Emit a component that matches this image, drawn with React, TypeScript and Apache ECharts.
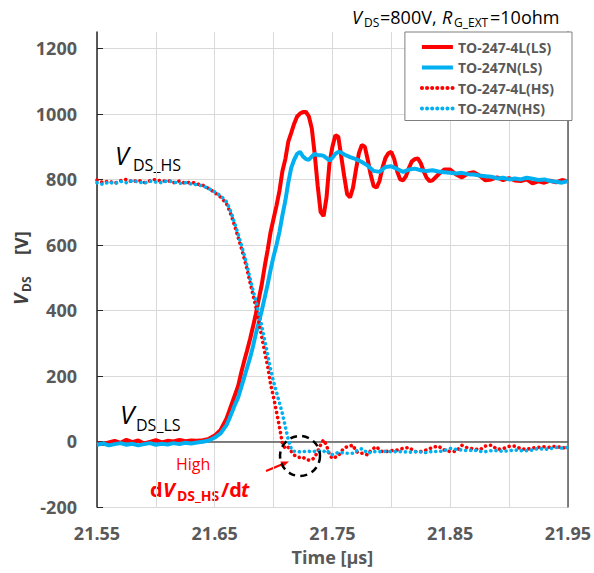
import React, { useEffect, useRef } from "react";
import * as echarts from "echarts";

// ---- axis settings ----
const X_MIN = 21.55;
const X_MAX = 21.95;
const X_STEP = 0.05;
const Y_MIN = -200;
const Y_MAX = 1250;
const Y_STEP = 200;

const seriesNames = ["TO-247-4L(LS)", "TO-247N(LS)", "TO-247-4L(HS)", "TO-247N(HS)"];

// ---- data: [time µs, V] ----
const ls4L: [number, number][] = [
  [21.55, -5], [21.555, -8], [21.56, -3], [21.565, 2], [21.57, -4], [21.575, 5], [21.58, -2], [21.585, 3],
  [21.59, -6], [21.595, -1], [21.6, 4], [21.605, -3], [21.61, 2], [21.615, 0], [21.62, 5], [21.625, 1],
  [21.63, 3], [21.635, 2], [21.64, 4], [21.645, 8], [21.65, 18], [21.655, 35], [21.66, 70], [21.6625, 95],
  [21.665, 120], [21.6675, 145], [21.67, 170], [21.6725, 210], [21.675, 245], [21.6775, 278], [21.68, 312],
  [21.6825, 350], [21.685, 390], [21.6875, 435], [21.69, 480], [21.6925, 535], [21.695, 585], [21.6975, 640],
  [21.7, 680], [21.7025, 720], [21.705, 765], [21.7075, 825], [21.71, 862], [21.7125, 915], [21.715, 942],
  [21.7175, 970], [21.72, 992], [21.7225, 1001], [21.725, 1006], [21.7275, 1006], [21.73, 992], [21.7325, 955],
  [21.735, 875], [21.7375, 780], [21.74, 700], [21.7425, 688], [21.745, 745], [21.7475, 850], [21.75, 900],
  [21.7525, 935], [21.755, 930], [21.7575, 870], [21.76, 810], [21.7625, 755], [21.765, 745], [21.7675, 775],
  [21.77, 830], [21.7725, 880], [21.775, 905], [21.7775, 900], [21.78, 860], [21.7825, 815], [21.785, 780],
  [21.7875, 775], [21.79, 795], [21.7925, 835], [21.795, 865], [21.7975, 880], [21.8, 884], [21.8025, 862],
  [21.805, 825], [21.8075, 800], [21.81, 797], [21.8125, 810], [21.815, 835], [21.8175, 855], [21.82, 862],
  [21.8225, 864], [21.825, 850], [21.8275, 825], [21.83, 805], [21.8325, 795], [21.835, 797], [21.84, 815],
  [21.845, 830], [21.85, 830], [21.855, 815], [21.86, 806], [21.865, 818], [21.87, 822], [21.875, 812],
  [21.88, 797], [21.885, 800], [21.89, 806], [21.895, 798], [21.9, 804], [21.905, 797], [21.91, 795],
  [21.915, 800], [21.92, 788], [21.925, 794], [21.93, 790], [21.935, 796], [21.94, 791], [21.945, 798], [21.95, 794],
];

const lsN: [number, number][] = [
  [21.55, -10], [21.555, -6], [21.56, -12], [21.565, -8], [21.57, -5], [21.575, -10], [21.58, -7], [21.585, -12],
  [21.59, -8], [21.595, -5], [21.6, -10], [21.605, -7], [21.61, -9], [21.615, -5], [21.62, -8], [21.625, -4],
  [21.63, -6], [21.635, -3], [21.64, -1], [21.645, 3], [21.65, 12], [21.655, 25], [21.66, 50], [21.6625, 70],
  [21.665, 92], [21.6675, 115], [21.67, 135], [21.6725, 165], [21.675, 195], [21.6775, 225], [21.68, 255],
  [21.6825, 290], [21.685, 330], [21.6875, 365], [21.69, 400], [21.6925, 440], [21.695, 480], [21.6975, 525],
  [21.7, 565], [21.7025, 600], [21.705, 640], [21.7075, 690], [21.71, 735], [21.7125, 790], [21.715, 835],
  [21.7175, 860], [21.72, 878], [21.7225, 884], [21.725, 870], [21.7275, 862], [21.73, 860], [21.7325, 870],
  [21.735, 878], [21.7375, 874], [21.74, 874], [21.7425, 872], [21.745, 865], [21.7475, 858], [21.75, 866],
  [21.7525, 878], [21.755, 884], [21.7575, 882], [21.76, 876], [21.765, 868], [21.77, 862], [21.775, 853],
  [21.78, 842], [21.785, 826], [21.79, 823], [21.795, 838], [21.8, 840], [21.805, 832], [21.81, 823],
  [21.815, 830], [21.82, 833], [21.825, 828], [21.83, 826], [21.835, 828], [21.84, 824], [21.845, 822],
  [21.85, 820], [21.855, 818], [21.86, 820], [21.865, 816], [21.87, 815], [21.875, 812], [21.88, 810],
  [21.885, 808], [21.89, 803], [21.895, 805], [21.9, 800], [21.905, 803], [21.91, 800], [21.915, 805],
  [21.92, 802], [21.925, 798], [21.93, 800], [21.935, 795], [21.94, 793], [21.945, 790], [21.95, 795],
];

const hs4L: [number, number][] = [
  [21.55, 798], [21.555, 790], [21.56, 795], [21.565, 788], [21.57, 796], [21.575, 800], [21.58, 792],
  [21.585, 798], [21.59, 790], [21.595, 796], [21.6, 800], [21.605, 794], [21.61, 797], [21.615, 790],
  [21.62, 795], [21.625, 788], [21.63, 792], [21.635, 786], [21.64, 782], [21.645, 772], [21.65, 760],
  [21.655, 746], [21.66, 726], [21.6625, 705], [21.665, 680], [21.6675, 652], [21.67, 622], [21.6725, 592],
  [21.675, 560], [21.6775, 525], [21.68, 485], [21.6825, 448], [21.685, 410], [21.6875, 365], [21.69, 318],
  [21.6925, 272], [21.695, 230], [21.6975, 175], [21.7, 135], [21.7025, 90], [21.705, 45], [21.7075, -5],
  [21.71, -22], [21.7125, -18], [21.715, -30], [21.7175, -42], [21.72, -45], [21.7225, -50], [21.725, -48],
  [21.7275, -55], [21.73, -57], [21.7325, -56], [21.735, -48], [21.7375, -30], [21.74, -10], [21.7425, 5],
  [21.745, -12], [21.7475, -40], [21.75, -52], [21.7525, -48], [21.755, -44], [21.7575, -30], [21.76, -20],
  [21.7625, -16], [21.765, -14], [21.7675, -11], [21.77, -30], [21.7725, -36], [21.775, -36], [21.7775, -38],
  [21.78, -41], [21.7825, -28], [21.785, -21], [21.7875, -16], [21.79, -25], [21.7925, -31], [21.795, -31],
  [21.8, -28], [21.805, -26], [21.81, -21], [21.815, -18], [21.82, -31], [21.825, -31], [21.83, -26],
  [21.835, -18], [21.84, -14], [21.845, -26], [21.85, -31], [21.855, -30], [21.86, -12], [21.865, -20],
  [21.87, -22], [21.875, -26], [21.88, -14], [21.885, -11], [21.89, -24], [21.895, -22], [21.9, -15],
  [21.905, -14], [21.91, -22], [21.915, -24], [21.92, -20], [21.925, -18], [21.93, -16], [21.935, -18],
  [21.94, -14], [21.945, -20], [21.95, -18],
];

const hsN: [number, number][] = [
  [21.55, 790], [21.555, 785], [21.56, 792], [21.565, 787], [21.57, 794], [21.575, 790], [21.58, 796],
  [21.585, 793], [21.59, 788], [21.595, 795], [21.6, 792], [21.605, 790], [21.61, 796], [21.615, 792],
  [21.62, 788], [21.625, 790], [21.63, 786], [21.635, 784], [21.64, 780], [21.645, 772], [21.65, 762],
  [21.655, 750], [21.66, 732], [21.6625, 712], [21.665, 688], [21.6675, 660], [21.67, 632], [21.6725, 602],
  [21.675, 570], [21.6775, 536], [21.68, 498], [21.6825, 462], [21.685, 428], [21.6875, 392], [21.69, 352],
  [21.6925, 308], [21.695, 265], [21.6975, 220], [21.7, 182], [21.7025, 150], [21.705, 118], [21.7075, 85],
  [21.71, 45], [21.7125, 5], [21.715, -22], [21.7175, -30], [21.72, -30], [21.7225, -32], [21.725, -30],
  [21.7275, -31], [21.73, -30], [21.7325, -32], [21.735, -30], [21.7375, -31], [21.74, -28], [21.7425, -31],
  [21.745, -26], [21.7475, -36], [21.75, -40], [21.7525, -36], [21.755, -34], [21.7575, -34], [21.76, -35],
  [21.7625, -36], [21.765, -36], [21.7675, -36], [21.77, -30], [21.7725, -26], [21.775, -22], [21.7775, -28],
  [21.78, -36], [21.7825, -33], [21.785, -31], [21.79, -31], [21.795, -30], [21.8, -31], [21.805, -31],
  [21.81, -31], [21.815, -33], [21.82, -31], [21.825, -32], [21.83, -34], [21.835, -30], [21.84, -31],
  [21.845, -28], [21.85, -21], [21.855, -24], [21.86, -26], [21.865, -28], [21.87, -26], [21.875, -30],
  [21.88, -31], [21.885, -28], [21.89, -28], [21.895, -30], [21.9, -28], [21.905, -26], [21.91, -28],
  [21.915, -28], [21.92, -26], [21.925, -21], [21.93, -24], [21.935, -22], [21.94, -18], [21.945, -20], [21.95, -18],
];

const RED = "#FF0000";
const BLUE = "#00B0F0";
const GRAY = "#595959";
const FF = '"Open Sans", "Noto Sans", sans-serif';

function txt(x: number, y: number, text: string, font: string, fill: string, align = "left") {
  return {
    type: "text",
    x,
    y,
    silent: true,
    style: { text, font, fill, align, verticalAlign: "middle", textAlign: align, textVerticalAlign: "middle" },
  };
}

export default function App() {
  const ref = useRef<HTMLDivElement>(null);

  useEffect(() => {
    if (!ref.current) return;
    const chart = echarts.init(ref.current, null, { renderer: "svg" });

    const dotted = { width: 3.6, type: [0.1, 5], cap: "round" };

    const option: any = {
      animation: false,
      backgroundColor: "#ffffff",
      grid: { left: 97, right: 21, top: 32, bottom: 66, containLabel: false },
      legend: {
        data: seriesNames,
        orient: "vertical",
        top: 32,
        right: 22,
        align: "left",
        selectedMode: false,
        backgroundColor: "#ffffff",
        borderColor: "#7f7f7f",
        borderWidth: 1,
        borderRadius: 0,
        padding: [8, 18, 5, 15],
        itemWidth: 31,
        itemHeight: 14,
        itemGap: 6.5,
        itemStyle: { opacity: 0, color: "rgba(0,0,0,0)", borderWidth: 0 },
        lineStyle: { width: 4 },
        textStyle: { color: GRAY, fontWeight: "bold", fontSize: 14, fontFamily: FF },
      },
      xAxis: {
        type: "value",
        min: X_MIN,
        max: X_MAX,
        interval: X_STEP,
        axisLine: { show: true, lineStyle: { color: GRAY, width: 1.5 } },
        axisTick: { show: false },
        splitLine: { show: true, lineStyle: { color: "#D9D9D9", width: 1 } },
        axisLabel: {
          color: GRAY,
          fontWeight: "bold",
          fontSize: 18,
          fontFamily: FF,
          margin: 17,
          formatter: (v: number) => (Math.round(v * 100) % 10 === 5 ? v.toFixed(2) : ""),
        },
        name: "Time [µs]",
        nameLocation: "middle",
        nameGap: 41,
        nameTextStyle: { color: GRAY, fontWeight: "bold", fontSize: 18, fontFamily: FF },
      },
      yAxis: [
        {
          type: "value",
          min: Y_MIN,
          max: Y_MAX,
          interval: Y_STEP,
          axisLine: { show: true, lineStyle: { color: "#262626", width: 1.5 } },
          axisTick: { show: true, inside: true, length: 6, lineStyle: { color: "#262626" } },
          splitLine: { show: true, showMaxLine: false, lineStyle: { color: "#D9D9D9", width: 1.2 } },
          axisLabel: {
            showMaxLabel: false,
            color: GRAY,
            fontWeight: "bold",
            fontSize: 18,
            fontFamily: FF,
            margin: 20,
            formatter: (v: number) => String(Math.round(v)),
          },
        },
        {
          type: "value",
          position: "right",
          min: Y_MIN,
          max: Y_MAX,
          interval: Y_STEP,
          axisLine: { show: true, lineStyle: { color: GRAY, width: 1.5 } },
          axisTick: { show: false },
          axisLabel: { show: false },
          splitLine: { show: false },
        },
      ],
      series: [
        { name: seriesNames[0], type: "line", data: ls4L, symbol: "none", showSymbol: false, lineStyle: { color: RED, width: 4 }, itemStyle: { color: RED } },
        { name: seriesNames[1], type: "line", data: lsN, symbol: "none", showSymbol: false, lineStyle: { color: BLUE, width: 4 }, itemStyle: { color: BLUE } },
        { name: seriesNames[2], type: "line", data: hs4L, symbol: "none", showSymbol: false, lineStyle: { color: RED, ...dotted }, itemStyle: { color: RED } },
        { name: seriesNames[3], type: "line", data: hsN, symbol: "none", showSymbol: false, lineStyle: { color: BLUE, ...dotted }, itemStyle: { color: BLUE } },
      ],
      graphic: [
        // title
        txt(352, 17, "V", 'italic 18px ' + FF, "#000"),
        txt(364, 22, "DS", '12px ' + FF, "#000"),
        txt(380, 17, "=800V,", '18px ' + FF, "#000"),
        txt(442, 17, "R", 'italic 18px ' + FF, "#000"),
        txt(454, 22, "G_EXT", '12px ' + FF, "#000"),
        txt(490, 17, "=10ohm", '18px ' + FF, "#000"),
        // y-axis name (rotated)
        {
          type: "group",
          x: 21,
          y: 305,
          rotation: Math.PI / 2,
          children: [
            txt(0, 0, "V", 'italic bold 19px ' + FF, "#404040"),
            txt(13, 5, "DS", 'bold 12px ' + FF, "#404040"),
            txt(50, 0, "[V]", 'bold 18px ' + FF, "#404040"),
          ],
        },
        // V_DS_HS label
        txt(115, 155, "V", 'italic 25px ' + FF, "#000"),
        txt(133, 165, "DS_HS", '16px ' + FF, "#000"),
        // V_DS_LS label
        txt(120, 414, "V", 'italic 26px ' + FF, "#000"),
        txt(136, 425, "DS_LS", '16px ' + FF, "#000"),
        // High dV/dt
        txt(176, 464, "High", '16px ' + FF, RED),
        txt(150, 489, "d", 'bold 20px ' + FF, RED),
        txt(163, 489, "V", 'italic bold 20px ' + FF, RED),
        txt(177, 495, "DS_HS", 'bold 14px ' + FF, RED),
        txt(221, 489, "/d", 'bold 20px ' + FF, RED),
        txt(241, 489, "t", 'italic bold 20px ' + FF, RED),
        // arrow
        {
          type: "line",
          silent: true,
          shape: { x1: 266, y1: 471, x2: 283, y2: 464 },
          style: { stroke: RED, lineWidth: 2 },
        },
        {
          type: "polygon",
          silent: true,
          shape: { points: [[289, 461.5], [282.6, 467.4], [280.4, 461.6]] },
          style: { fill: RED },
        },
        // dashed circle
        {
          type: "circle",
          silent: true,
          z: 10,
          shape: { cx: 300, cy: 456, r: 20 },
          style: { fill: "none", stroke: "#000", lineWidth: 2.5, lineDash: [7, 5] },
        },
      ],
    };

    chart.setOption(option);
    return () => chart.dispose();
  }, []);

  return (
    <div
      ref={ref}
      style={{ position: "fixed", left: 0, top: 0, width: 594, height: 573, background: "#fff" }}
    />
  );
}
